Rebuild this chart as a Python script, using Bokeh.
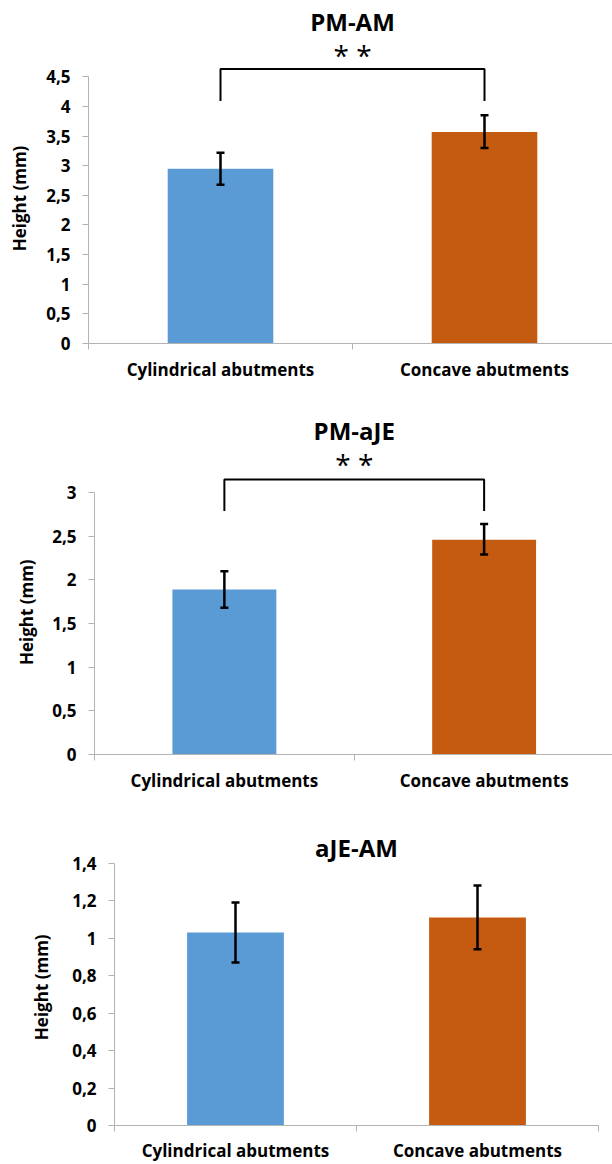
from bokeh.plotting import figure
from bokeh.models import FixedTicker, ColumnDataSource, Whisker, TeeHead, Range1d
from bokeh.core.properties import value
from bokeh.embed import file_html
from bokeh.resources import INLINE

# ---------------- data ----------------
categories = ["Cylindrical abutments", "Concave abutments"]
bar_colors = ["#5b9bd5", "#c55a11"]

titles = ["PM-AM", "PM-aJE", "aJE-AM"]

pm_am_mean = [2.95, 3.57]
pm_am_low = [2.68, 3.30]
pm_am_high = [3.22, 3.85]

pm_aje_mean = [1.89, 2.46]
pm_aje_low = [1.68, 2.29]
pm_aje_high = [2.10, 2.64]

aje_am_mean = [1.03, 1.11]
aje_am_low = [0.87, 0.94]
aje_am_high = [1.19, 1.28]

pm_am_ticks = [0, 0.5, 1, 1.5, 2, 2.5, 3, 3.5, 4, 4.5]
pm_am_tick_labels = ["0", "0,5", "1", "1,5", "2", "2,5", "3", "3,5", "4", "4,5"]
pm_aje_ticks = [0, 0.5, 1, 1.5, 2, 2.5, 3]
pm_aje_tick_labels = ["0", "0,5", "1", "1,5", "2", "2,5", "3"]
aje_am_ticks = [0, 0.2, 0.4, 0.6, 0.8, 1.0, 1.2, 1.4]
aje_am_tick_labels = ["0", "0,2", "0,4", "0,6", "0,8", "1", "1,2", "1,4"]

significance = ["* *", "* *", None]
y_label = "Height (mm)"

FONT = "Open Sans"
AXIS_COLOR = "#b3b3b3"
NBSP = "\u00a0"


def make_panel(title, means, lows, highs, ticks, tick_labels, sig, lay):
    p = figure(width=612, height=lay["height"], output_backend="svg",
               toolbar_location=None,
               x_range=Range1d(0, lay["x_end"]), y_range=Range1d(0, lay["y_end"]),
               min_border_left=lay["left"], min_border_right=lay["right"],
               min_border_top=0, min_border_bottom=lay["bottom"])
    p.xgrid.visible = False
    p.ygrid.visible = False
    p.outline_line_color = None
    p.background_fill_color = "white"
    p.border_fill_color = "white"

    xs = [i + 0.5 for i in range(len(categories))]
    src = ColumnDataSource(dict(x=xs, top=means, low=lows, high=highs,
                                color=bar_colors[:len(means)]))
    p.vbar(x="x", top="top", bottom=0, width=0.4, fill_color="color",
           line_color=None, source=src)

    w = Whisker(source=src, base="x", upper="high", lower="low",
                line_color="black", line_width=2.5, level="overlay",
                upper_head=TeeHead(size=8, line_color="black", line_width=2.5),
                lower_head=TeeHead(size=8, line_color="black", line_width=2.5))
    p.add_layout(w)

    mid = (xs[0] + xs[1]) / 2
    p.text(x=[mid], y=[lay["title_y"]], text=[title],
           text_font=value(FONT), text_font_style="bold", text_font_size="24px",
           text_align="center", text_baseline="middle", text_color="black")

    if sig:
        bx = [xs[0], xs[0], xs[1], xs[1]]
        by = [lay["leg_y"], lay["br_y"], lay["br_y"], lay["leg_y"]]
        p.line(bx, by, line_color="black", line_width=2)
        p.text(x=[mid], y=[lay["star_y"]], text=[sig],
               text_font=value(FONT), text_font_size="28px",
               text_align="center", text_baseline="middle", text_color="black")

    # x axis
    xa = p.xaxis[0]
    xa.ticker = FixedTicker(ticks=xs, minor_ticks=[0, 1, 2])
    xa.major_label_overrides = {x: c for x, c in zip(xs, categories)}
    xa.major_tick_line_color = None
    xa.major_tick_out = 0
    xa.major_tick_in = 0
    xa.minor_tick_out = 6
    xa.minor_tick_in = 0
    xa.minor_tick_line_color = AXIS_COLOR
    xa.axis_line_color = AXIS_COLOR
    xa.major_label_standoff = lay["xstand"]
    xa.major_label_text_font = FONT
    xa.major_label_text_font_style = "bold"
    xa.major_label_text_font_size = "17px"
    xa.major_label_text_color = "black"

    # y axis
    ya = p.yaxis[0]
    ya.ticker = FixedTicker(ticks=ticks)
    ya.major_label_overrides = {t: l for t, l in zip(ticks, tick_labels)}
    ya.minor_tick_line_color = None
    ya.major_tick_out = 6
    ya.major_tick_in = 0
    ya.major_tick_line_color = AXIS_COLOR
    ya.axis_line_color = AXIS_COLOR
    ya.bounds = (0, ticks[-1])
    ya.major_label_standoff = 12
    ya.major_label_text_font = FONT
    ya.major_label_text_font_style = "bold"
    ya.major_label_text_font_size = "17px"
    ya.major_label_text_color = "black"
    # trailing no-break spaces move the centred, rotated title down
    ya.axis_label = y_label + NBSP * lay["pad"]
    ya.axis_label_text_font = FONT
    ya.axis_label_text_font_style = "bold"
    ya.axis_label_text_font_size = "17px"
    ya.axis_label_text_color = "black"
    ya.axis_label_standoff = lay["ystand"]
    return p


layouts = [
    dict(height=390, left=88, right=0, bottom=47, x_end=524 / 264, y_end=343 / 59.27,
         title_y=5.433, star_y=4.87, br_y=4.63, leg_y=4.09, xstand=8, ystand=12, pad=12),
    dict(height=410, left=94, right=0, bottom=46, x_end=518 / 259.75, y_end=364 / 87.3,
         title_y=3.715, star_y=3.325, br_y=3.15, leg_y=2.79, xstand=8, ystand=11, pad=18),
    dict(height=364, left=114, right=14, bottom=37, x_end=2.0, y_end=327 / 188.6,
         title_y=1.481, star_y=0, br_y=0, leg_y=0, xstand=7, ystand=16, pad=11),
]

p1 = make_panel(titles[0], pm_am_mean, pm_am_low, pm_am_high, pm_am_ticks,
                pm_am_tick_labels, significance[0], layouts[0])
p2 = make_panel(titles[1], pm_aje_mean, pm_aje_low, pm_aje_high, pm_aje_ticks,
                pm_aje_tick_labels, significance[1], layouts[1])
p3 = make_panel(titles[2], aje_am_mean, aje_am_low, aje_am_high, aje_am_ticks,
                aje_am_tick_labels, significance[2], layouts[2])

p = [p1, p2, p3]
open("out.html", "w").write(file_html(p, INLINE))
